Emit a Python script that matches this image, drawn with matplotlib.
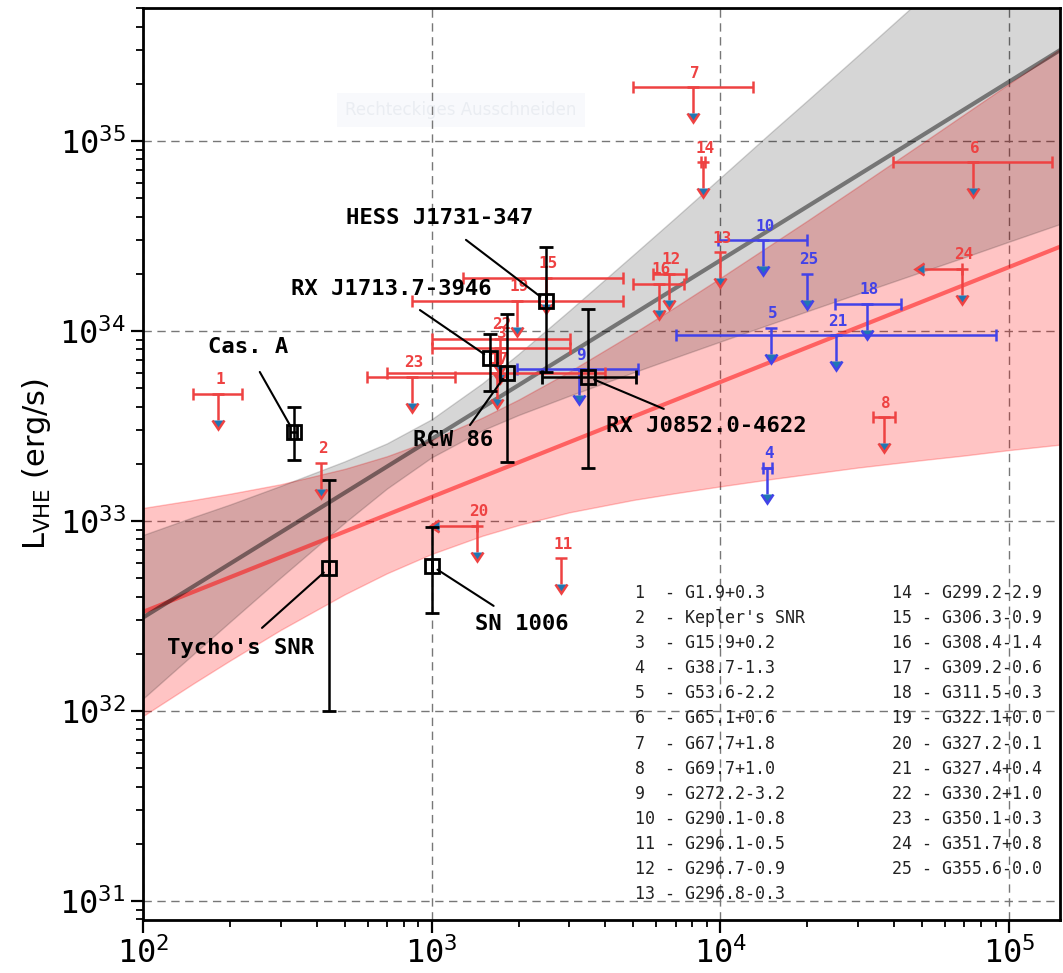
import numpy as np
import matplotlib.pyplot as plt

plt.rcParams['font.family'] = ['DejaVu Sans Mono']
plt.rcParams['mathtext.fontset'] = 'dejavusans'

# fit bands (ages in yr, luminosity in erg/s)
band_age = [1e2, 1.5e2, 2e2, 3e2, 5e2, 7e2, 1e3, 1.5e3, 2e3, 3e3, 5e3, 7e3,
            1e4, 1.5e4, 2e4, 3e4, 5e4, 7e4, 1e5, 1.5e5]
grey_hi = [8.43e32, 1.05e33, 1.22e33, 1.53e33, 2.06e33, 2.56e33, 3.43e33, 5.31e33, 7.57e33, 1.28e34,
           2.52e34, 3.95e34, 6.40e34, 1.11e35, 1.63e35, 2.82e35, 5.65e35, 8.91e35, 1.45e36, 2.50e36]
grey_lo = [1.16e32, 2.00e32, 2.94e32, 5.04e32, 9.79e32, 1.48e33, 2.16e33, 3.00e33, 3.61e33, 4.56e33,
           6.05e33, 7.26e33, 8.79e33, 1.09e34, 1.27e34, 1.57e34, 2.05e34, 2.44e34, 2.95e34, 3.65e34]
red_hi = [1.17e33, 1.29e33, 1.39e33, 1.56e33, 1.88e33, 2.19e33, 2.67e33, 3.50e33, 4.35e33, 6.11e33,
          9.72e33, 1.34e34, 1.90e34, 2.85e34, 3.80e34, 5.75e34, 9.73e34, 1.38e35, 2.00e35, 3.04e35]
red_lo = [9.40e31, 1.40e32, 1.84e32, 2.67e32, 4.11e32, 5.30e32, 6.70e32, 8.36e32, 9.51e32, 1.11e33,
          1.29e33, 1.40e33, 1.52e33, 1.66e33, 1.76e33, 1.91e33, 2.09e33, 2.21e33, 2.36e33, 2.52e33]
fit_age = [1e2, 1.5e5]
grey_fit = [3.1e32, 3.0e35]
red_fit = [3.32e32, 2.77e34]

# detected SNRs
snr_names = ["Cas. A", "Tycho's SNR", "SN 1006", "RX J1713.7-3946", "RCW 86",
             "HESS J1731-347", "RX J0852.0-4622"]
snr_age = [333, 441, 1000, 1592, 1824, 2489, 3475]
snr_age_lo = [323, 441, 1000, 1592, 1824, 2489, 2411]
snr_age_hi = [343, 441, 1000, 1592, 1824, 2489, 5100]
snr_lum = [2.94e33, 5.66e32, 5.8e32, 7.2e33, 6.0e33, 1.44e34, 5.73e33]
snr_lum_lo = [2.09e33, 1.0e32, 3.28e32, 4.83e33, 2.04e33, 6.1e33, 1.9e33]
snr_lum_hi = [3.98e33, 1.64e33, 9.3e32, 9.6e33, 1.23e34, 2.77e34, 1.31e34]

# upper limits
ul_names = ["G1.9+0.3", "Kepler's SNR", "G15.9+0.2", "G38.7-1.3", "G53.6-2.2",
            "G65.1+0.6", "G67.7+1.8", "G69.7+1.0", "G272.2-3.2", "G290.1-0.8",
            "G296.1-0.5", "G296.7-0.9", "G296.8-0.3", "G299.2-2.9", "G306.3-0.9",
            "G308.4-1.4", "G309.2-0.6", "G311.5-0.3", "G322.1+0.0", "G327.2-0.1",
            "G327.4+0.4", "G330.2+1.0", "G350.1-0.3", "G351.7+0.8", "G355.6-0.0"]
ul_age = [182, 414, 1726, 14500, 14960, 75000, 8035, 36900, 3236, 14060,
          2806, 6640, 9970, 8710, 2489, 6120, 1683, 32200, 1972, 1435,
          25100, 1726, 855, 68700, 19950]
ul_age_lo = [149, 414, 1000, 14060, 14960, 39600, 4980, 33800, 1972, 9810,
             2806, 5850, 9970, 8600, 1282, 4980, 700, 24900, 855, 1435,
             7020, 1000, 597, 68700, 19950]
ul_age_hi = [220, 414, 3013, 15100, 14960, 141000, 12970, 40300, 5190, 19950,
             2806, 7600, 9970, 8820, 4603, 7480, 3980, 42300, 4603, 1435,
             90200, 3013, 1205, 68700, 19950]
ul_age_is_limit = [False] * 19 + [True] + [False] * 3 + [True, False]
ul_lum = [4.66e33, 2.02e33, 8.15e33, 1.9e33, 1.04e34, 7.74e34, 1.92e35, 3.52e33, 6.3e33, 3.01e34,
          6.38e32, 2.0e34, 2.6e34, 7.74e34, 1.9e34, 1.77e34, 6.0e33, 1.39e34, 1.44e34, 9.42e32,
          9.5e33, 9.08e33, 5.73e33, 2.12e34, 2.0e34]
ul_blue = [4, 5, 9, 10, 18, 21, 25]

# label layout for the named SNRs (pixel offsets: line start, text centre)
line_off = [(-34, 60), (-67, -60), (62, -40), (-70, 48), (-37, -52), (-80, 61), (76, -32)]
text_off = [(-46, 85), (-88, -80), (90, -58), (-99, 69), (-54, -67), (-106, 83), (119, -49)]

RED = '#ee4242'
BLUE = '#4242e8'

fig = plt.figure(figsize=(10.63, 9.73), dpi=100)
ax = fig.add_axes([0.1345, 0.0545, 0.8627, 0.9373])
ax.set_xscale('log')
ax.set_yscale('log')

ax.fill_between(band_age, red_lo, red_hi, color='red', alpha=0.23, lw=1, zorder=1)
ax.fill_between(band_age, grey_lo, grey_hi, color='black', alpha=0.16, lw=1, zorder=1.1)
ax.plot(fit_age, red_fit, color='red', alpha=0.5, lw=3, zorder=1.5)
ax.plot(fit_age, grey_fit, color='black', alpha=0.45, lw=3, zorder=1.6)

# upper limits
for i in range(len(ul_age)):
    num = i + 1
    col = BLUE if num in ul_blue else RED
    x, y = ul_age[i], ul_lum[i]
    if ul_age_is_limit[i]:
        ax.errorbar(x, y, xerr=0.26 * x, yerr=0.27 * y, xuplims=True, uplims=True,
                    fmt='none', ecolor=col, elinewidth=1.8,
                    capsize=4.5, capthick=1.8, zorder=3)
    else:
        xerr = [[x - ul_age_lo[i]], [ul_age_hi[i] - x]]
        if ul_age_hi[i] == x:
            xerr = None
        ax.errorbar(x, y, xerr=xerr, yerr=0.27 * y, uplims=True,
                    fmt='none', ecolor=col, elinewidth=1.8,
                    capsize=4.5, capthick=1.8, zorder=3)
    ax.annotate(str(num), xy=(x, y), xytext=(2, 14), textcoords='offset pixels',
                ha='center', va='center', color=col, fontsize=11.5,
                fontweight='bold', zorder=3)

# detected SNRs
ax.errorbar(snr_age, snr_lum,
            xerr=[np.subtract(snr_age, snr_age_lo), np.subtract(snr_age_hi, snr_age)],
            yerr=[np.subtract(snr_lum, snr_lum_lo), np.subtract(snr_lum_hi, snr_lum)],
            fmt='s', mfc='none', mec='k', ms=10, mew=2, ecolor='k',
            elinewidth=1.8, capsize=5, capthick=1.8, zorder=5)

for i, name in enumerate(snr_names):
    xy = (snr_age[i], snr_lum[i])
    ax.annotate('', xy=xy, xytext=line_off[i], textcoords='offset pixels',
                arrowprops=dict(arrowstyle='-', color='k', lw=1.5, shrinkA=0, shrinkB=5),
                zorder=5)
    ax.annotate(name, xy=xy, xytext=text_off[i], textcoords='offset pixels',
                ha='center', va='center', fontsize=16, fontweight='bold', color='k', zorder=6)

# source list
step = 0.02752
for i, name in enumerate(ul_names):
    if i < 13:
        tx, ty = 0.5365, 0.3586 - i * step
    else:
        tx, ty = 0.8168, 0.3586 - (i - 13) * step
    ax.text(tx, ty, f"{i + 1:<2} - {name}", transform=ax.transAxes,
            ha='left', va='center', fontsize=12, color='#222222', zorder=4)

# faint screen-capture tooltip left in the picture
ax.text(0.2203, 0.888, "Rechteckiges Ausschneiden", transform=ax.transAxes,
        ha='left', va='center', fontsize=12, color='#eaedf2', family='DejaVu Sans',
        bbox=dict(boxstyle='square,pad=0.5', fc='#f8f9fc', ec='none'), zorder=0.5)

ax.set_xlim(100, 1.503e5)
ax.set_ylim(7.94e30, 5.01e35)
ax.grid(True, which='major', ls=(0, (6, 4)), color='#777777', lw=1)
ax.set_axisbelow(True)
ax.tick_params(which='major', direction='out', length=9, width=1.6, labelsize=23)
ax.tick_params(which='minor', direction='out', length=5, width=1.3)
for s in ax.spines.values():
    s.set_linewidth(2)
ax.set_ylabel(r'L$_{\rm VHE}$ (erg/s)', fontsize=22, family='DejaVu Sans', labelpad=4)

fig.savefig('out.png', dpi=100)
